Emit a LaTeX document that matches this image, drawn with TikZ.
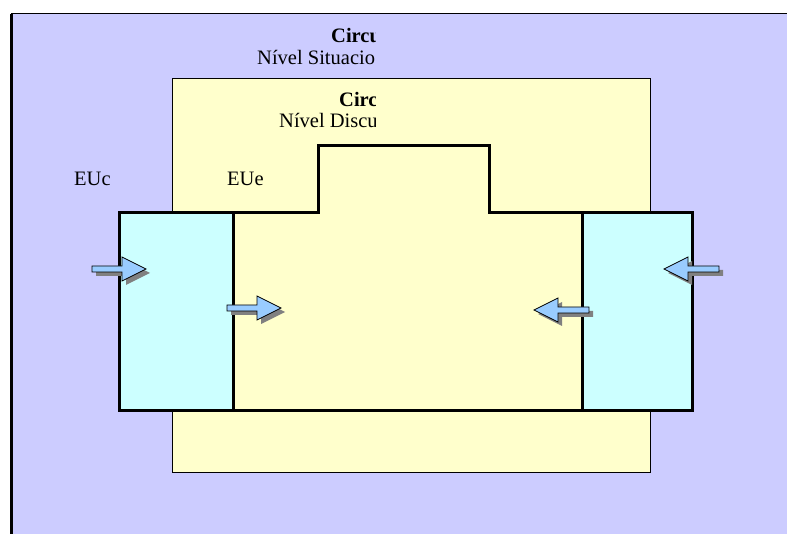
\documentclass[tikz,border=0pt]{standalone}
\usepackage{fontspec}
\setmainfont{Liberation Serif}
\usetikzlibrary{shadows, positioning}
\definecolor{situblue}{RGB}{204, 204, 255}
\definecolor{discyellow}{RGB}{255, 255, 204}
\definecolor{unitcyan}{RGB}{204, 255, 255}
\definecolor{flowblue}{RGB}{153, 204, 255}

\tikzset{
    flow/.style={draw=black, fill=flowblue, line width=0.7pt, line join=miter,
        drop shadow={shadow xshift=4pt, shadow yshift=-4pt, fill=gray, opacity=1}},
    lbl/.style={font=\fontsize{20.5}{22}\selectfont, inner sep=0pt, anchor=base west},
    wall/.style={draw=black, line width=3pt}
}

\begin{document}
\begin{tikzpicture}[x=1pt, y=-1pt]
        \useasboundingbox (0,0) rectangle (787,534);

        % Situational level
        \fill[situblue] (11,14) rectangle (787,534);
        \draw[line width=1pt] (11,14) -- (787,14);
        \draw[line width=3pt] (11.5,14) -- (11.5,534);

        % Discursive level
        \draw[fill=discyellow, line width=1pt] (172,79) rectangle (650,472);

        % Units inside the discursive level
        \fill[discyellow] (233,213) -- (318,213) -- (318,146) -- (489,146) -- (489,213)
            -- (582,213) -- (582,410) -- (233,410) -- cycle;
        \fill[unitcyan] (119,213) rectangle (233,410);
        \fill[unitcyan] (582,213) rectangle (692,410);
        \draw[wall, line join=miter] (119,213) -- (318,213) -- (318,146) -- (489,146)
            -- (489,213) -- (692,213) -- (692,410) -- (119,410) -- cycle;
        \draw[wall] (233,213) -- (233,410);
        \draw[wall] (582,213) -- (582,410);

        % Titles, cut at the box edge
        \begin{scope}
            \clip (0,0) rectangle (375,534);
            \node[lbl, font=\fontsize{20.5}{22}\selectfont\bfseries] (circa) at (331,43) {Circu};
            \node[lbl] (nivsit) at (257,65) {Nível Situacio};
            \node[lbl, font=\fontsize{20.5}{22}\selectfont\bfseries] (circb) at (339,107) {Circu};
            \node[lbl] (nivdisc) at (279,128) {Nível Discu};
        \end{scope}

        \node[lbl] (euc) at (74,186) {EUc};
        \node[lbl] (eue) at (227,186) {EUe};

        % Flows pointing right
        \draw[flow] (146,269) -- ++(-24,-12) -- ++(0,9) -- ++(-30,0) -- ++(0,6)
            -- ++(30,0) -- ++(0,9) -- cycle;
        \draw[flow] (281,308) -- ++(-24,-12) -- ++(0,9) -- ++(-30,0) -- ++(0,6)
            -- ++(30,0) -- ++(0,9) -- cycle;
        % Flows pointing left
        \draw[flow] (664,269) -- ++(24,-12) -- ++(0,9) -- ++(31,0) -- ++(0,6)
            -- ++(-31,0) -- ++(0,9) -- cycle;
        \draw[flow] (534,310) -- ++(24,-12) -- ++(0,9) -- ++(31,0) -- ++(0,6)
            -- ++(-31,0) -- ++(0,9) -- cycle;
\end{tikzpicture}
\end{document}
